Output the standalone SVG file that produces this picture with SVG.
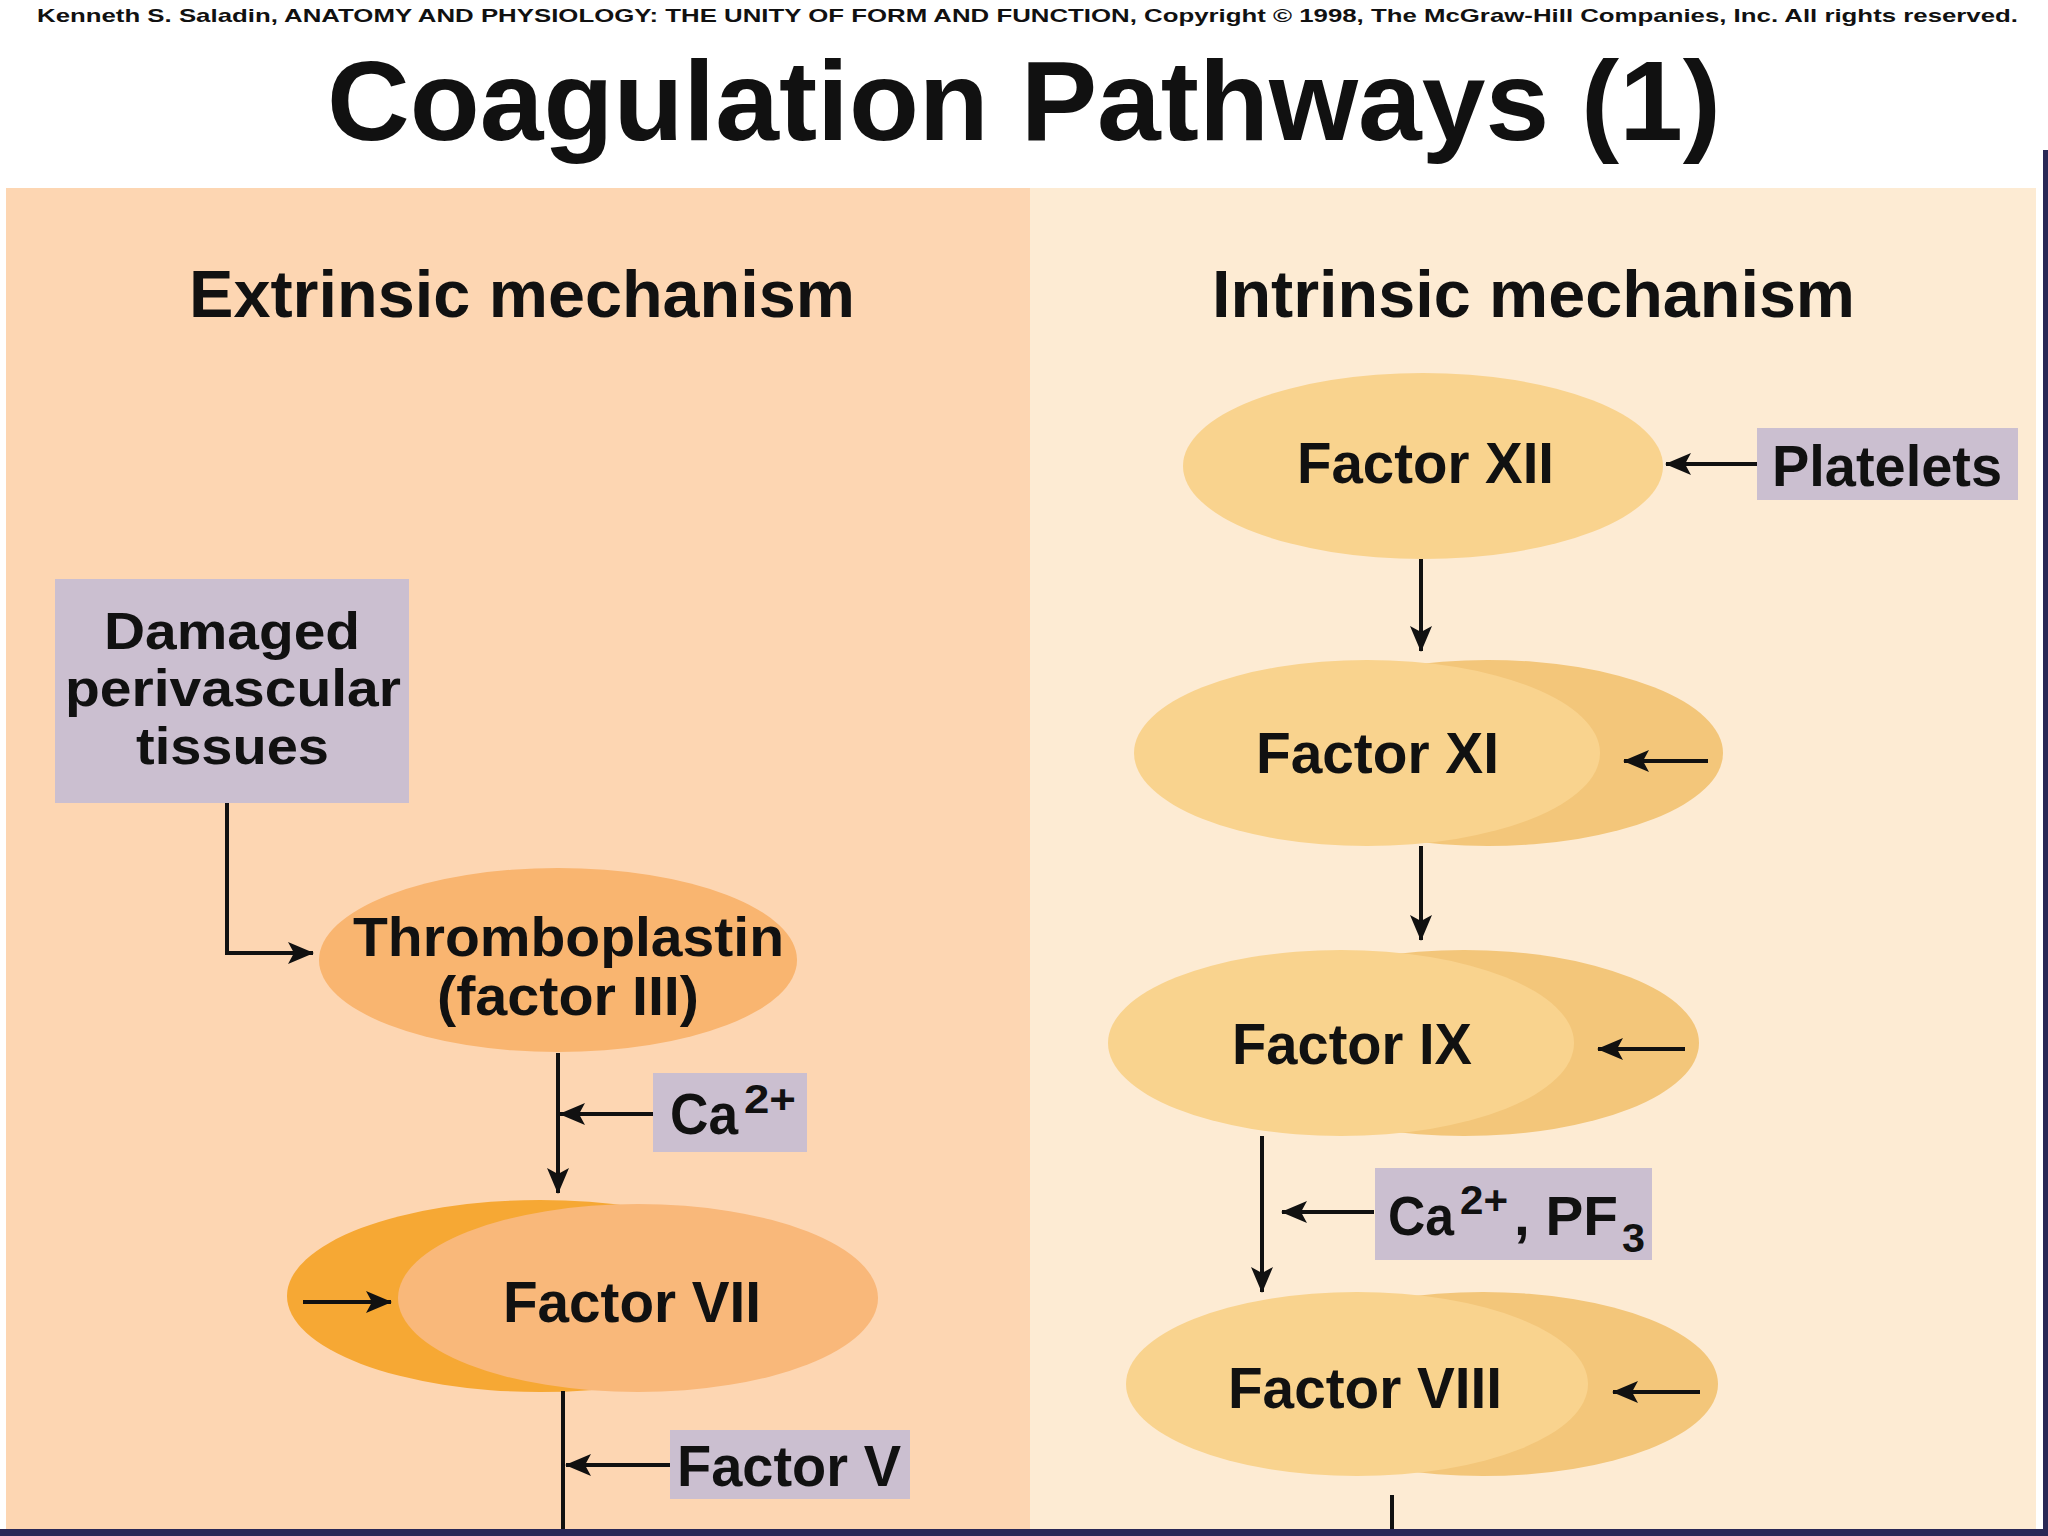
<svg xmlns="http://www.w3.org/2000/svg" width="2048" height="1536" viewBox="0 0 2048 1536">
<defs>
<style>
.t{font-family:"Liberation Sans",Arial,sans-serif;font-weight:bold;fill:#111}
.box{fill:#CBBFD0}
.ln{stroke:#111;stroke-width:4;fill:none}
</style>
<marker id="ah" markerUnits="userSpaceOnUse" markerWidth="26" markerHeight="22" viewBox="0 0 26 22" refX="25" refY="11" orient="auto">
<path d="M0,0 L26,11 L0,22 L6,11 z" fill="#111"/>
</marker>
</defs>
<rect width="2048" height="1536" fill="#fff"/>
<text class="t" x="37" y="22" font-size="19" textLength="1981" lengthAdjust="spacingAndGlyphs">Kenneth S. Saladin, ANATOMY AND PHYSIOLOGY: THE UNITY OF FORM AND FUNCTION, Copyright © 1998, The McGraw-Hill Companies, Inc.  All rights reserved.</text>
<text class="t" x="327" y="140" font-size="113" textLength="1394" lengthAdjust="spacingAndGlyphs">Coagulation Pathways (1)</text>
<g id="panels">
<rect x="6" y="188" width="1024" height="1342" fill="#FDD6B2"/>
<rect x="1030" y="188" width="1006" height="1342" fill="#FDEBD3"/>
<rect x="2043" y="150" width="5" height="1386" fill="#2A2856"/>
<rect x="0" y="1529" width="2048" height="7" fill="#2A2856"/>
</g>
<text class="t" x="189" y="317" font-size="66" textLength="666" lengthAdjust="spacingAndGlyphs">Extrinsic mechanism</text>
<text class="t" x="1212" y="317" font-size="66" textLength="643" lengthAdjust="spacingAndGlyphs">Intrinsic mechanism</text>
<g id="damaged">
<rect class="box" x="55" y="579" width="354" height="224"/>
<text class="t" x="104" y="649" font-size="52" textLength="256" lengthAdjust="spacingAndGlyphs">Damaged</text>
<text class="t" x="65" y="706" font-size="52" textLength="336" lengthAdjust="spacingAndGlyphs">perivascular</text>
<text class="t" x="136" y="764" font-size="52" textLength="193" lengthAdjust="spacingAndGlyphs">tissues</text>
</g>
<g id="thromboplastin">
<ellipse cx="558" cy="960" rx="239" ry="92" fill="#F9B570"/>
<text class="t" x="353" y="956" font-size="55" textLength="431" lengthAdjust="spacingAndGlyphs">Thromboplastin</text>
<text class="t" x="437" y="1015" font-size="55" textLength="262" lengthAdjust="spacingAndGlyphs">(factor III)</text>
</g>
<g id="ca1">
<rect class="box" x="653" y="1073" width="154" height="79"/>
<text class="t" x="670" y="1134" font-size="57" textLength="68" lengthAdjust="spacingAndGlyphs">Ca</text>
<text class="t" x="744" y="1113" font-size="40" textLength="52" lengthAdjust="spacingAndGlyphs">2+</text>
</g>
<g id="factor7">
<ellipse cx="540" cy="1296" rx="253" ry="96" fill="#F6A834"/>
<ellipse cx="638" cy="1298" rx="240" ry="94" fill="#F9B87A"/>
<text class="t" x="503" y="1322" font-size="58" textLength="258" lengthAdjust="spacingAndGlyphs">Factor VII</text>
</g>
<g id="factor5">
<rect class="box" x="670" y="1430" width="240" height="69"/>
<text class="t" x="677" y="1486" font-size="58" textLength="224" lengthAdjust="spacingAndGlyphs">Factor V</text>
</g>
<g id="factor12">
<ellipse cx="1423" cy="466" rx="240" ry="93" fill="#F9D38E"/>
<text class="t" x="1297" y="483" font-size="58" textLength="257" lengthAdjust="spacingAndGlyphs">Factor XII</text>
</g>
<g id="platelets">
<rect class="box" x="1757" y="428" width="261" height="72"/>
<text class="t" x="1772" y="486" font-size="58" textLength="230" lengthAdjust="spacingAndGlyphs">Platelets</text>
</g>
<g id="factor11">
<ellipse cx="1488" cy="753" rx="235" ry="93" fill="#F3C67A"/>
<ellipse cx="1367" cy="753" rx="233" ry="93" fill="#F9D38E"/>
<text class="t" x="1256" y="773" font-size="58" textLength="243" lengthAdjust="spacingAndGlyphs">Factor XI</text>
</g>
<g id="factor9">
<ellipse cx="1464" cy="1043" rx="235" ry="93" fill="#F3C67A"/>
<ellipse cx="1341" cy="1043" rx="233" ry="93" fill="#F9D38E"/>
<text class="t" x="1232" y="1064" font-size="58" textLength="240" lengthAdjust="spacingAndGlyphs">Factor IX</text>
</g>
<g id="ca-pf3">
<rect class="box" x="1375" y="1168" width="277" height="92"/>
<text class="t" x="1388" y="1235" font-size="56" textLength="66" lengthAdjust="spacingAndGlyphs">Ca</text>
<text class="t" x="1460" y="1214" font-size="40" textLength="48" lengthAdjust="spacingAndGlyphs">2+</text>
<text class="t" x="1514" y="1235" font-size="56" textLength="104" lengthAdjust="spacingAndGlyphs">, PF</text>
<text class="t" x="1622" y="1252" font-size="40" textLength="23" lengthAdjust="spacingAndGlyphs">3</text>
</g>
<g id="factor8">
<ellipse cx="1483" cy="1384" rx="235" ry="92" fill="#F3C67A"/>
<ellipse cx="1357" cy="1384" rx="231" ry="92" fill="#F9D38E"/>
<text class="t" x="1228" y="1408" font-size="58" textLength="274" lengthAdjust="spacingAndGlyphs">Factor VIII</text>
</g>
<g id="connectors">
<path class="ln" d="M227,803 V953 H313" marker-end="url(#ah)"/>
<path class="ln" d="M558,1053 V1193" marker-end="url(#ah)"/>
<path class="ln" d="M653,1114 H560" marker-end="url(#ah)"/>
<path class="ln" d="M303,1302 H391" marker-end="url(#ah)"/>
<path class="ln" d="M563,1391 V1529"/>
<path class="ln" d="M670,1465 H566" marker-end="url(#ah)"/>
<path class="ln" d="M1757,464 H1666" marker-end="url(#ah)"/>
<path class="ln" d="M1421,559 V651" marker-end="url(#ah)"/>
<path class="ln" d="M1708,761 H1624" marker-end="url(#ah)"/>
<path class="ln" d="M1421,846 V940" marker-end="url(#ah)"/>
<path class="ln" d="M1685,1049 H1598" marker-end="url(#ah)"/>
<path class="ln" d="M1262,1136 V1292" marker-end="url(#ah)"/>
<path class="ln" d="M1374,1212 H1282" marker-end="url(#ah)"/>
<path class="ln" d="M1700,1392 H1613" marker-end="url(#ah)"/>
<path class="ln" d="M1392,1495 V1529"/>
</g>
</svg>
